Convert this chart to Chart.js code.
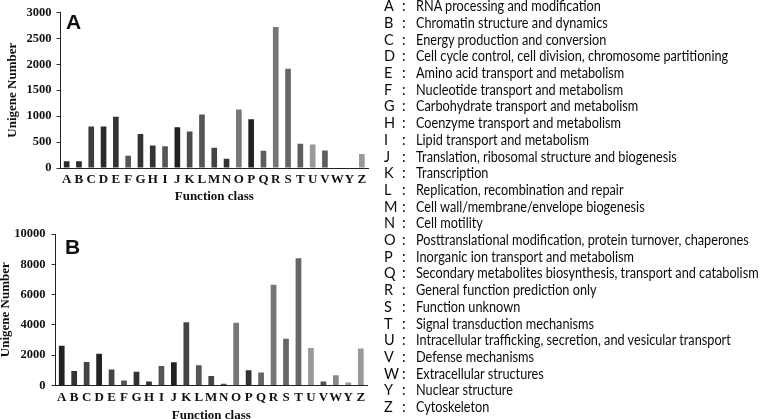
<!DOCTYPE html>
<html>
<head>
<meta charset="utf-8">
<script src="https://cdn.jsdelivr.net/npm/chart.js@4.4.0/dist/chart.umd.min.js"></script>
<style>
  html, body { margin: 0; padding: 0; background: #fff; }
  body { width: 761px; height: 419px; position: relative; overflow: hidden; }
  .panel { position: absolute; left: 0; width: 372px; height: 210px; }
  #wrapA { top: 0; }
  #wrapB { top: 215px; }
  .tag { position: absolute; font: bold 21px "Liberation Sans", Arial, sans-serif; color: #111; line-height: 1; }
  #legend { position: absolute; left: 0; top: 0; width: 761px; height: 419px;
    font: 14.5px Lato, "Liberation Sans", sans-serif; color: #0a0a0a; }
  .row { position: absolute; left: 0; height: 17px; line-height: 17px; white-space: nowrap; }
  .row span { position: absolute; top: 0; }
  .row .d { transform-origin: 0 50%; }
</style>
</head>
<body>
<div class="panel" id="wrapA"><canvas id="chartA"></canvas></div>
<div class="panel" id="wrapB"><canvas id="chartB"></canvas></div>
<div class="tag" style="left:66px;top:11px;">A</div>
<div class="tag" style="left:65px;top:236px;">B</div>
<div id="legend"></div>
<script>
// ====== Data ======
const classes = ["A","B","C","D","E","F","G","H","I","J","K","L","M","N","O","P","Q","R","S","T","U","V","W","Y","Z"];
const descriptions = [
  "RNA processing and modification",
  "Chromatin structure and dynamics",
  "Energy production and conversion",
  "Cell cycle control, cell division, chromosome partitioning",
  "Amino acid transport and metabolism",
  "Nucleotide transport and metabolism",
  "Carbohydrate transport and metabolism",
  "Coenzyme transport and metabolism",
  "Lipid transport and metabolism",
  "Translation, ribosomal structure and biogenesis",
  "Transcription",
  "Replication, recombination and repair",
  "Cell wall/membrane/envelope biogenesis",
  "Cell motility",
  "Posttranslational modification, protein turnover, chaperones",
  "Inorganic ion transport and metabolism",
  "Secondary metabolites biosynthesis, transport and catabolism",
  "General function prediction only",
  "Function unknown",
  "Signal transduction mechanisms",
  "Intracellular trafficking, secretion, and vesicular transport",
  "Defense mechanisms",
  "Extracellular structures",
  "Nuclear structure",
  "Cytoskeleton"
];
const countsA = [130,130,800,800,990,236,658,434,421,785,702,1034,390,179,1130,939,332,2720,1916,470,455,340,0,0,270];
const countsB = [2630,950,1550,2100,1050,330,900,270,1280,1540,4180,1330,620,120,4150,1000,860,6650,3080,8400,2480,270,680,200,2450];
const colorsA = ["#2b2b2b","#2b2b2b","#3d3d3d","#2b2b2b","#333333","#555555","#333333","#333333","#555555","#222222","#4a4a4a","#555555","#444444","#333333","#777777","#222222","#5e5e5e","#777777","#666666","#5e5e5e","#999999","#5e5e5e","#888888","#999999","#999999"];
const colorsB = ["#222222","#333333","#444444","#222222","#444444","#555555","#333333","#333333","#555555","#222222","#444444","#555555","#444444","#555555","#777777","#333333","#666666","#777777","#666666","#666666","#999999","#555555","#888888","#999999","#999999"];

// ====== Legend ======
const legend = document.getElementById("legend");
descriptions.forEach((d, i) => {
  const row = document.createElement("div");
  row.className = "row";
  row.style.top = (i * 16.7 - 2.8) + "px";
  row.innerHTML = `<span style="left:384px">${classes[i]}</span><span style="left:402px">:</span><span class="d" style="left:416px">${d}</span>`;
  legend.appendChild(row);
});
// squeeze the descriptions so the longest (D) line ends where it does in the figure
const spans = Array.from(document.querySelectorAll(".row .d"));
const k = 312 / spans[3].offsetWidth;
spans.forEach((s) => { s.style.transform = `scaleX(${k})`; });

// ====== Charts ======
const serif = "'Liberation Serif', 'Times New Roman', serif";

function makeChart(id, values, colors, opt) {
  return new Chart(document.getElementById(id), {
    type: "bar",
    data: {
      labels: classes,
      datasets: [{ data: values, backgroundColor: colors, borderWidth: 0,
        categoryPercentage: 1, barPercentage: 0.46 }],
    },
    options: {
      responsive: true,
      maintainAspectRatio: false,
      animation: false,
      layout: { padding: { left: 0, right: opt.padRight, top: opt.padTop, bottom: opt.padBottom } },
      plugins: { legend: { display: false }, tooltip: { enabled: false } },
      scales: {
        x: {
          type: "category",
          offset: true,
          grid: { display: false, drawTicks: false },
          border: { display: true, color: "#222", width: 1 },
          ticks: { color: "#111", font: { family: serif, size: 13, weight: "bold" },
            padding: 4, maxRotation: 0, autoSkip: false },
          title: { display: true, text: "Function class", color: "#111",
            font: { family: serif, size: 13, weight: "bold" }, padding: 0 },
          afterFit: (s) => { s.height = opt.bottom; },
        },
        y: {
          min: 0,
          max: opt.max,
          grid: { display: true, drawOnChartArea: false, drawTicks: true, tickLength: 4, color: "#333" },
          border: { display: true, color: "#222", width: 1 },
          ticks: { stepSize: opt.step, color: "#111", padding: opt.tickPad,
            font: { family: serif, size: 12.5, weight: "bold" },
            callback: (v) => String(v) },
          title: { display: true, text: "Unigene Number", color: "#111",
            font: { family: serif, size: 13, weight: "bold" }, padding: { top: opt.titlePad, bottom: 0 } },
          afterFit: (s) => { s.width = opt.left; },
        },
      },
    },
  });
}

makeChart("chartA", countsA, colorsA, { max: 3000, step: 500, left: 60.5, padTop: 11.7, padRight: 4, padBottom: 5.2, bottom: 36.8, tickPad: 5, titlePad: 4.7 });
makeChart("chartB", countsB, colorsB, { max: 10000, step: 2000, left: 55.5, padTop: 19, padRight: 5, padBottom: 2, bottom: 37.5, tickPad: 6, titlePad: -1.8 });
</script>
</body>
</html>
